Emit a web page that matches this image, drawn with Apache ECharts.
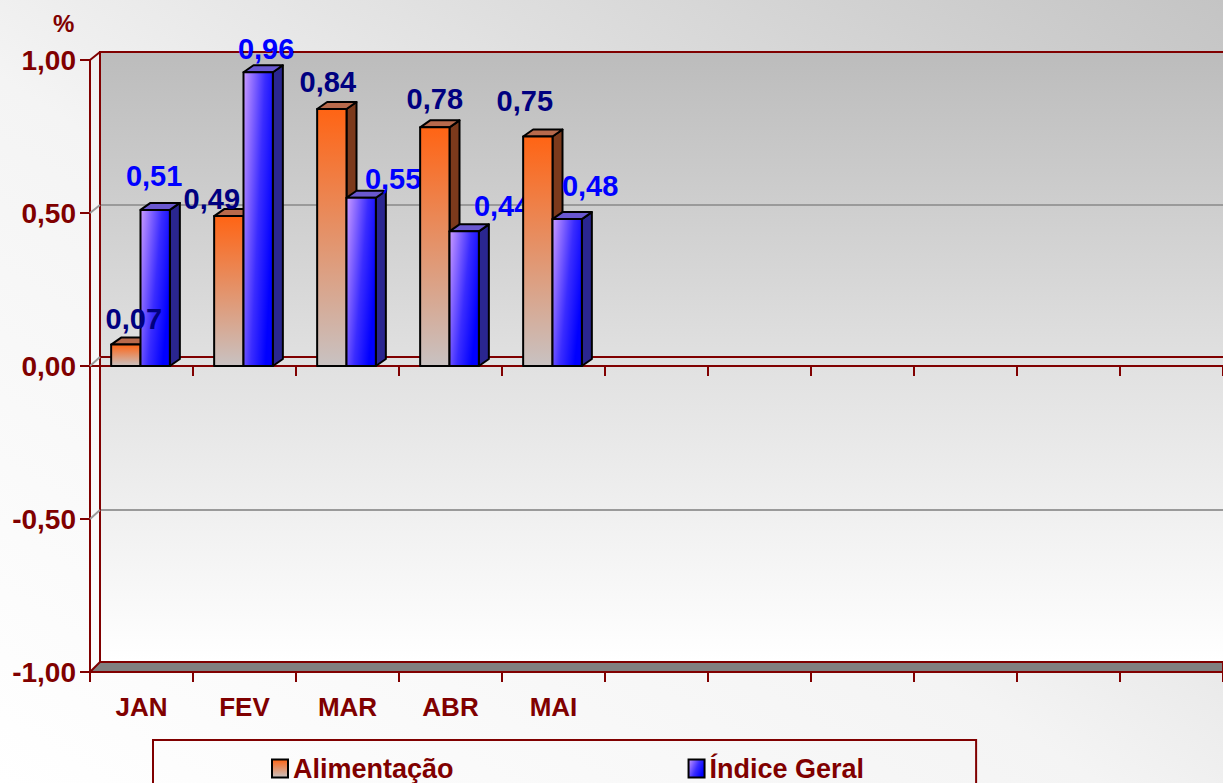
<!DOCTYPE html>
<html>
<head>
<meta charset="utf-8">
<title>Alimentação x Índice Geral</title>
<script src="https://cdn.jsdelivr.net/npm/echarts@6/dist/echarts.min.js"></script>
<style>
  html, body { margin: 0; padding: 0; }
  #chart { width: 1223px; height: 783px; }
</style>
</head>
<body>
<div id="chart"></div>
<script>
// meses (eixo x) - só os 5 primeiros têm dados
var categorias = ['JAN', 'FEV', 'MAR', 'ABR', 'MAI', 'JUN', 'JUL', 'AGO', 'SET', 'OUT', 'NOV', 'DEZ'];
var alimentacao = [0.07, 0.49, 0.84, 0.78, 0.75];
var indiceGeral = [0.51, 0.96, 0.55, 0.44, 0.48];
var yTicks = [-1, -0.5, 0, 0.5, 1];

// ajuste fino dos rótulos (px, relativo ao topo da barra) - imita o excel
var ajusteAlim = [[8, -15], [-17, -7], [-4, -16], [0, -18], [-13, -25]];
var ajusteIndice = [[-1, -23], [8, -13], [32, -8], [38, -15], [23, -23]];

var vermelho = '#800000';
var fonte = '"Liberation Sans", Arial, sans-serif';
var fmt = function (v) { return v.toFixed(2).replace('.', ','); };

// gradientes das barras
var gradLaranja = new echarts.graphic.LinearGradient(0, 0, 0, 1, [
    { offset: 0, color: '#ff6414' },
    { offset: 1, color: '#c8c2c2' }
]);
var gradAzul = new echarts.graphic.LinearGradient(0, 0, 1, 0.5, [
    { offset: 0, color: '#cc9cff' },
    { offset: 0.6, color: '#3a2cff' },
    { offset: 1, color: '#0000ff' }
]);

var borda = { stroke: '#000', lineWidth: 2, lineJoin: 'round' };

// uma barra 3d (face lateral, topo e frente) + posição
var barra = function (api, cat, val, lado, frente, topo, lateral) {
    var base = api.coord([cat, 0]);
    var ponta = api.coord([cat, val]);
    var w = api.size([1, 0])[0] * 0.285;
    var x0 = lado < 0 ? base[0] - w - 1 : base[0] - 1;
    var x1 = x0 + w, yT = ponta[1], yB = base[1];
    var dx = 10, dy = -7;
    return {
        cx: (x0 + x1) / 2, yT: yT,
        els: [
            {
                type: 'polygon',
                shape: { points: [[x1, yT], [x1 + dx, yT + dy], [x1 + dx, yB + dy], [x1, yB]] },
                style: Object.assign({ fill: lateral }, borda)
            },
            {
                type: 'polygon',
                shape: { points: [[x0, yT], [x0 + dx, yT + dy], [x1 + dx, yT + dy], [x1, yT]] },
                style: Object.assign({ fill: topo }, borda)
            },
            {
                type: 'rect',
                shape: { x: x0, y: yT, width: w, height: yB - yT },
                style: Object.assign({ fill: frente }, borda)
            }
        ]
    };
};

var rotulo = function (b, val, ajuste, cor) {
    return {
        type: 'text',
        style: {
            text: fmt(val),
            x: b.cx + ajuste[0],
            y: b.yT + ajuste[1] + 4,
            align: 'center',
            verticalAlign: 'bottom',
            fill: cor,
            font: 'bold 29px ' + fonte
        }
    };
};

// desenha mês a mês (como no excel: os rótulos ficam atrás das barras seguintes)
var renderMes = function (params, api) {
    var cat = api.value(0);
    var i = params.dataIndex;
    var a = barra(api, cat, api.value(1), -1, gradLaranja, '#b86a4c', '#7c3a1c');
    var b = barra(api, cat, api.value(2), 1, gradAzul, '#6a58d0', '#2a2690');
    return {
        type: 'group',
        children: a.els.concat(b.els).concat([
            rotulo(a, api.value(1), ajusteAlim[i], '#000080'),
            rotulo(b, api.value(2), ajusteIndice[i], '#0000ff')
        ])
    };
};

var dadosMes = alimentacao.map(function (v, i) { return [i, v, indiceGeral[i]]; });

var chart = echarts.init(document.getElementById('chart'), null, { renderer: 'svg' });

var fundoGrade = new echarts.graphic.LinearGradient(0, 0, 0, 1, [
    { offset: 0, color: '#bcbcbc' },
    { offset: 0.5, color: '#e0e0e0' },
    { offset: 1, color: '#ffffff' }
]);

var option = {
    backgroundColor: new echarts.graphic.LinearGradient(1, 0, 0, 1, [
        { offset: 0, color: '#c4c4c4' },
        { offset: 0.55, color: '#f4f4f4' },
        { offset: 1, color: '#ffffff' }
    ]),
    textStyle: { fontFamily: fonte },
    title: {
        text: '%',
        left: 48,
        top: 6,
        textStyle: { color: vermelho, fontSize: 24, fontWeight: 'bold' }
    },
    legend: {
        left: 153,
        top: 740,
        padding: [15, 112, 22, 118],
        itemGap: 234,
        itemWidth: 16,
        itemHeight: 18,
        borderColor: vermelho,
        borderWidth: 2,
        backgroundColor: 'transparent',
        textStyle: { color: vermelho, fontSize: 27, fontWeight: 'bold' },
        data: [
            { name: 'Alimentação', icon: 'rect', itemStyle: { color: gradLaranja, borderColor: '#000', borderWidth: 2 } },
            { name: 'Índice Geral', icon: 'rect', itemStyle: { color: gradAzul, borderColor: '#000', borderWidth: 2 } }
        ]
    },
    grid: [
        // parede do fundo
        { left: 100, top: 52, width: 1236, height: 610, outerBoundsMode: 'none', show: true, backgroundColor: fundoGrade, borderColor: vermelho, borderWidth: 2 },
        // plano da frente
        { left: 90, top: 60, width: 1236, height: 612, outerBoundsMode: 'none' },
        // linha do zero
        { left: 90, top: 60, width: 1236, height: 612, outerBoundsMode: 'none' }
    ],
    xAxis: [
        {
            gridIndex: 0, type: 'category', data: categorias,
            axisLine: { onZero: true, lineStyle: { color: vermelho, width: 2 } },
            axisTick: { show: false }, axisLabel: { show: false }
        },
        {
            gridIndex: 1, type: 'category', data: categorias, position: 'bottom',
            axisLine: { onZero: false, lineStyle: { color: vermelho, width: 2 } },
            axisTick: { show: true, length: 10, lineStyle: { color: vermelho, width: 2 } },
            axisLabel: {
                interval: 0, margin: 22, color: vermelho, fontSize: 26, fontWeight: 'bold',
                formatter: function (v, i) { return i < alimentacao.length ? v : ''; }
            }
        },
        {
            gridIndex: 2, type: 'category', data: categorias,
            axisLine: { onZero: true, lineStyle: { color: vermelho, width: 2 } },
            axisTick: { show: true, length: 10, lineStyle: { color: vermelho, width: 2 } },
            axisLabel: { show: false }
        }
    ],
    yAxis: [
        {
            gridIndex: 0, type: 'value', min: yTicks[0], max: yTicks[yTicks.length - 1], interval: 0.5,
            axisLine: { show: true, lineStyle: { color: vermelho, width: 2 } },
            axisTick: { show: false }, axisLabel: { show: false },
            splitLine: { show: true, showMinLine: false, showMaxLine: false, lineStyle: { color: '#9a9a9a', width: 2 } }
        },
        {
            gridIndex: 1, type: 'value', min: yTicks[0], max: yTicks[yTicks.length - 1], interval: 0.5,
            axisLine: { show: true, lineStyle: { color: vermelho, width: 2 } },
            axisTick: { show: true, length: 10, lineStyle: { color: vermelho, width: 2 } },
            axisLabel: { margin: 14, color: vermelho, fontSize: 28, fontWeight: 'bold', formatter: fmt },
            splitLine: { show: false }
        },
        {
            gridIndex: 2, type: 'value', min: yTicks[0], max: yTicks[yTicks.length - 1], interval: 0.5,
            show: false, splitLine: { show: false }
        }
    ],
    graphic: [
        {
            type: 'polygon', z: 1, silent: true,
            shape: { points: [[90, 672], [100, 662], [1223, 662], [1223, 672]] },
            style: { fill: '#808080', stroke: vermelho, lineWidth: 2 }
        },
        { type: 'line', z: 1, shape: { x1: 90, y1: 60, x2: 100, y2: 52 }, style: { stroke: vermelho, lineWidth: 2 } },
        { type: 'line', z: 1, shape: { x1: 90, y1: 213, x2: 100, y2: 205 }, style: { stroke: '#9a9a9a', lineWidth: 2 } },
        { type: 'line', z: 1, shape: { x1: 90, y1: 366, x2: 100, y2: 357 }, style: { stroke: '#9a9a9a', lineWidth: 2 } },
        { type: 'line', z: 1, shape: { x1: 90, y1: 519, x2: 100, y2: 510 }, style: { stroke: '#9a9a9a', lineWidth: 2 } }
    ],
    series: [
        // só para a legenda
        { name: 'Alimentação', type: 'bar', xAxisIndex: 2, yAxisIndex: 2, data: [] },
        { name: 'Índice Geral', type: 'bar', xAxisIndex: 2, yAxisIndex: 2, data: [] },
        {
            name: 'meses', type: 'custom', xAxisIndex: 2, yAxisIndex: 2, z: 5, silent: true,
            renderItem: renderMes,
            data: dadosMes
        }
    ]
};

chart.setOption(option);
</script>
</body>
</html>
